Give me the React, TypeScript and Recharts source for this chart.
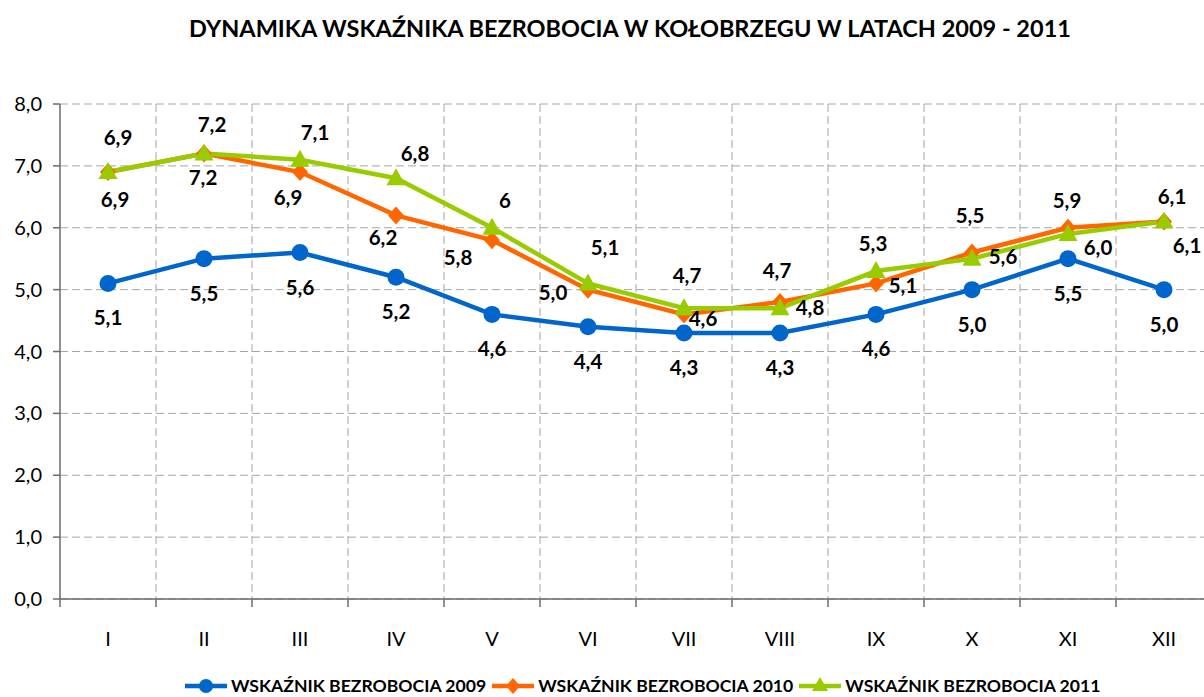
import { LineChart, Line, XAxis, YAxis, CartesianGrid, LabelList } from 'recharts'

const MONTHS = ['I', 'II', 'III', 'IV', 'V', 'VI', 'VII', 'VIII', 'IX', 'X', 'XI', 'XII']
const RATE_2009 = [5.1, 5.5, 5.6, 5.2, 4.6, 4.4, 4.3, 4.3, 4.6, 5.0, 5.5, 5.0]
const RATE_2010 = [6.9, 7.2, 6.9, 6.2, 5.8, 5.0, 4.6, 4.8, 5.1, 5.6, 6.0, 6.1]
const RATE_2011 = [6.9, 7.2, 7.1, 6.8, 6, 5.1, 4.7, 4.7, 5.3, 5.5, 5.9, 6.1]
const Y_TICKS = [0, 1, 2, 3, 4, 5, 6, 7, 8]

const TITLE = 'DYNAMIKA WSKAŹNIKA BEZROBOCIA W KOŁOBRZEGU W LATACH 2009 - 2011'
const NAMES = ['WSKAŹNIK BEZROBOCIA 2009', 'WSKAŹNIK BEZROBOCIA 2010', 'WSKAŹNIK BEZROBOCIA 2011']

// label placement relative to the point (the excel labels were nudged by hand)
const OFF_2009 = MONTHS.map(() => [0, 34])
const OFF_2010 = [[7, 27], [-1, 23], [-12, 25], [-13, 22], [-34, 17], [-35, 2], [19, 4], [30, 5], [27, 2], [31, 3], [30, 19], [23, 23]]
const OFF_2011 = [[10, -35], [8, -30], [15, -28], [19, -25], [13, -28], [17, -36], [3, -33], [-3, -38], [-3, -28], [-2, -44], [-1, -34], [8, -26]]

const BLUE = '#0066CC'
const ORANGE = '#FF6600'
const GREEN = '#99CC00'
const FONT = 'Lato, "Open Sans", sans-serif'
const AXIS = '#6b6b6b'

const PLOT_W = 1152
const BAND = PLOT_W / MONTHS.length

const data = MONTHS.map((m, i) => ({ m, a: RATE_2009[i], b: RATE_2010[i], c: RATE_2011[i] }))

const fixed = (v: number) => v.toFixed(1).replace('.', ',')
const general = (v: number) => String(v).replace('.', ',')

function makeLabel(offsets: number[][], fmt: (v: number) => string) {
  return (p: any) => {
    const [dx, dy] = offsets[p.index] || [0, 0]
    return (
      <text x={p.x + dx} y={p.y + dy} textAnchor="middle" dominantBaseline="central"
        fontFamily={FONT} fontWeight={700} fontSize={20.5} fill="#000">
        {fmt(Number(p.value))}
      </text>
    )
  }
}

const CircleDot = (p: any) => <circle key={p.index} cx={p.cx} cy={p.cy} r={8.5} fill={BLUE} />
const DiamondDot = (p: any) => (
  <path key={p.index} d={`M${p.cx},${p.cy - 9} L${p.cx + 8},${p.cy} L${p.cx},${p.cy + 9} L${p.cx - 8},${p.cy} Z`} fill={ORANGE} />
)
const TriangleDot = (p: any) => (
  <path key={p.index} d={`M${p.cx},${p.cy - 10} L${p.cx + 9.5},${p.cy + 7} L${p.cx - 9.5},${p.cy + 7} Z`} fill={GREEN} />
)

const MonthTick = (p: any) => (
  <g>
    <line x1={p.x - BAND / 2} x2={p.x - BAND / 2} y1={p.y} y2={p.y + 8} stroke={AXIS} strokeWidth={1.5} />
    <text x={p.x} y={p.y + 39} textAnchor="middle" dominantBaseline="central" fontFamily={FONT} fontSize={20} fill="#000">
      {p.payload.value}
    </text>
  </g>
)

function LegendIcon({ color, kind }: { color: string; kind: string }) {
  return (
    <svg width={42} height={20} style={{ display: 'block' }}>
      <line x1={0} x2={42} y1={10} y2={10} stroke={color} strokeWidth={4.5} />
      {kind === 'circle' && <circle cx={21} cy={10} r={7} fill={color} />}
      {kind === 'diamond' && <path d="M21,2 L28,10 L21,18 L14,10 Z" fill={color} />}
      {kind === 'triangle' && <path d="M21,1 L29,15 L13,15 Z" fill={color} />}
    </svg>
  )
}

export default function App() {
  const legend = [
    { name: NAMES[0], color: BLUE, kind: 'circle' },
    { name: NAMES[1], color: ORANGE, kind: 'diamond' },
    { name: NAMES[2], color: GREEN, kind: 'triangle' },
  ]
  return (
    <div style={{ position: 'absolute', left: 0, top: 0, width: 1204, height: 697, overflow: 'hidden', background: '#fff' }}>
      <div style={{ position: 'absolute', top: 14, left: 0, width: 1260, textAlign: 'center', fontFamily: FONT, fontWeight: 700, fontSize: 23.5, color: '#000', whiteSpace: 'nowrap' }}>
        {TITLE}
      </div>
      <LineChart width={1220} height={697} data={data} margin={{ top: 104, right: 8, left: 0, bottom: 38 }}>
        <CartesianGrid stroke="#a6a6a6" strokeDasharray="8 4"
          verticalCoordinatesGenerator={({ offset }: any) => MONTHS.slice(1).map((_, i) => offset.left + (i + 1) * BAND)} />
        <XAxis dataKey="m" height={60} padding={{ left: BAND / 2, right: BAND / 2 }} tickSize={0} tickMargin={0}
          tickLine={false} axisLine={{ stroke: AXIS, strokeWidth: 1.5 }} tick={<MonthTick />} interval={0} />
        <YAxis width={60} domain={[0, 8]} ticks={Y_TICKS} tickFormatter={fixed} tickSize={7} tickMargin={11}
          axisLine={{ stroke: AXIS, strokeWidth: 1.5 }} tickLine={{ stroke: AXIS, strokeWidth: 1.5 }}
          tick={{ fill: '#000', fontSize: 20, fontFamily: FONT }} />
        <Line dataKey="a" stroke={BLUE} strokeWidth={4.5} dot={CircleDot} isAnimationActive={false}>
          <LabelList dataKey="a" content={makeLabel(OFF_2009, fixed)} />
        </Line>
        <Line dataKey="b" stroke={ORANGE} strokeWidth={4.5} dot={DiamondDot} isAnimationActive={false}>
          <LabelList dataKey="b" content={makeLabel(OFF_2010, fixed)} />
        </Line>
        <Line dataKey="c" stroke={GREEN} strokeWidth={4.5} dot={TriangleDot} isAnimationActive={false}>
          <LabelList dataKey="c" content={makeLabel(OFF_2011, general)} />
        </Line>
      </LineChart>
      <div style={{ position: 'absolute', top: 675, left: 185, display: 'flex', alignItems: 'center', gap: 6, fontFamily: FONT, fontWeight: 700, fontSize: 17.6, color: '#000', whiteSpace: 'nowrap' }}>
        {legend.map((l) => (
          <div key={l.name} style={{ display: 'flex', alignItems: 'center', gap: 4 }}>
            <LegendIcon color={l.color} kind={l.kind} />
            <span>{l.name}</span>
          </div>
        ))}
      </div>
    </div>
  )
}
